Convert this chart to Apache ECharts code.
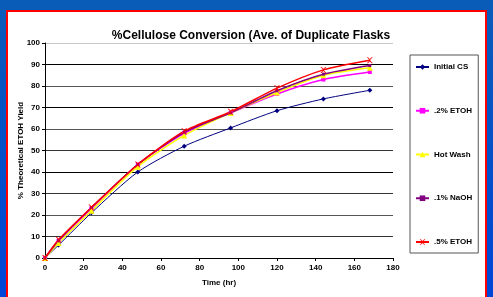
<!DOCTYPE html>
<html>
<head>
<meta charset="utf-8">
<script src="https://cdn.jsdelivr.net/npm/echarts@6/dist/echarts.min.js"></script>
<style>
  html, body { margin: 0; padding: 0; }
  #chart { width: 493px; height: 297px; }
</style>
</head>
<body>
<div id="chart"></div>
<script>
// hours sampled
var hours = [0, 7, 24, 48, 72, 96, 120, 144, 168];
// % theoretical ETOH yield per treatment
var initialCS = [0, 6, 21, 40, 52, 60.5, 68.5, 74, 78];
var etoh02 = [0, 8, 23, 43.5, 58, 67.5, 76.3, 83, 86.5];
var hotWash = [0, 7, 22, 42.5, 57, 67.5, 77, 85, 88.5];
var naoh01 = [0, 8, 23.5, 43.5, 58.5, 67.5, 77.8, 85.5, 89.5];
var etoh05 = [0, 8.5, 23.5, 43.5, 59, 68, 79, 87.5, 92];
var yTicks = [0, 10, 20, 30, 40, 50, 60, 70, 80, 90, 100];
var xTicks = [0, 20, 40, 60, 80, 100, 120, 140, 160, 180];

var xMark = 'path://M0,0 L2,0 L5,3 L8,0 L10,0 L6,4 L6,6 L10,10 L8,10 L5,7 L2,10 L0,10 L4,6 L4,4 Z';

function pairs(ys) {
  return hours.map(function (h, i) { return [h, ys[i]]; });
}

function makeSeries(name, ys, color, symbol, size, width) {
  return {
    name: name,
    type: 'line',
    data: pairs(ys),
    smooth: 0.25,
    symbol: symbol,
    symbolSize: size,
    showAllSymbol: true,
    lineStyle: { color: color, width: width },
    itemStyle: { color: color, borderWidth: 0 },
    emphasis: { disabled: true },
    z: 3
  };
}

var chart = echarts.init(document.getElementById('chart'));
var font = 'Arial, "Liberation Sans", sans-serif';

var option = {
  backgroundColor: new echarts.graphic.LinearGradient(0, 0, 0, 1, [
    { offset: 0, color: '#0a5cb8' },
    { offset: 1, color: '#0046d8' }
  ]),
  animation: false,
  graphic: [
    {
      type: 'rect',
      z: -10,
      shape: { x: 7, y: 11, width: 479, height: 300 },
      style: { fill: '#ffffff', stroke: '#ff0000', lineWidth: 2 }
    }
  ],
  title: {
    text: '%Cellulose Conversion (Ave. of Duplicate Flasks',
    left: 246,
    textAlign: 'center',
    top: 25,
    textStyle: { fontFamily: font, fontSize: 12, fontWeight: 'bold', color: '#000' }
  },
  grid: { left: 45, right: 100, top: 43, bottom: 39 },
  legend: {
    orient: 'vertical',
    left: 410,
    top: 55,
    padding: [8, 6, 7, 5],
    itemGap: 35.75,
    itemWidth: 13,
    itemHeight: 7,
    borderColor: '#555',
    borderWidth: 1,
    textStyle: { fontFamily: font, fontSize: 8, fontWeight: 'bold', color: '#000', lineHeight: 8 },
    data: ['Initial CS', '.2% ETOH', 'Hot Wash', '.1% NaOH', '.5% ETOH']
  },
  xAxis: {
    type: 'value',
    min: 0,
    max: 180,
    interval: 20,
    name: 'Time (hr)',
    nameLocation: 'middle',
    nameGap: 21,
    nameMoveOverlap: false,
    nameTextStyle: { fontFamily: font, fontSize: 8, fontWeight: 'bold', color: '#000' },
    axisLine: { lineStyle: { color: '#000', width: 1 } },
    axisTick: { show: true, length: 3, lineStyle: { color: '#000' } },
    axisLabel: {
      fontFamily: font, fontSize: 8, fontWeight: 'bold', color: '#000', margin: 6,
      formatter: function (v) { return xTicks.indexOf(v) >= 0 ? String(v) : ''; }
    },
    splitLine: { show: false }
  },
  yAxis: {
    type: 'value',
    min: 0,
    max: 100,
    interval: 10,
    name: '% Theoretical ETOH Yield',
    nameLocation: 'middle',
    nameGap: 20,
    nameMoveOverlap: false,
    nameTextStyle: { fontFamily: font, fontSize: 8, fontWeight: 'bold', color: '#000' },
    axisLine: { show: true, lineStyle: { color: '#000', width: 1 } },
    axisTick: { show: true, length: 3, lineStyle: { color: '#000' } },
    axisLabel: {
      fontFamily: font, fontSize: 8, fontWeight: 'bold', color: '#000', margin: 5,
      formatter: function (v) { return yTicks.indexOf(v) >= 0 ? String(v) : ''; }
    },
    splitLine: {
      show: true,
      lineStyle: {
        color: ['#000', '#333', '#555', '#333', '#000', '#333', '#555', '#000', '#555', '#000', '#c8c8c8'],
        width: 1
      }
    }
  },
  series: [
    makeSeries('Initial CS', initialCS, '#000080', 'diamond', 5, 1),
    makeSeries('.2% ETOH', etoh02, '#ff00ff', 'rect', 4, 1.5),
    makeSeries('Hot Wash', hotWash, '#ffff00', 'triangle', 6, 1.5),
    makeSeries('.1% NaOH', naoh01, '#800080', 'rect', 3, 1.5),
    makeSeries('.5% ETOH', etoh05, '#ff0000', xMark, 6, 1.5)
  ]
};

chart.setOption(option);
</script>
</body>
</html>
